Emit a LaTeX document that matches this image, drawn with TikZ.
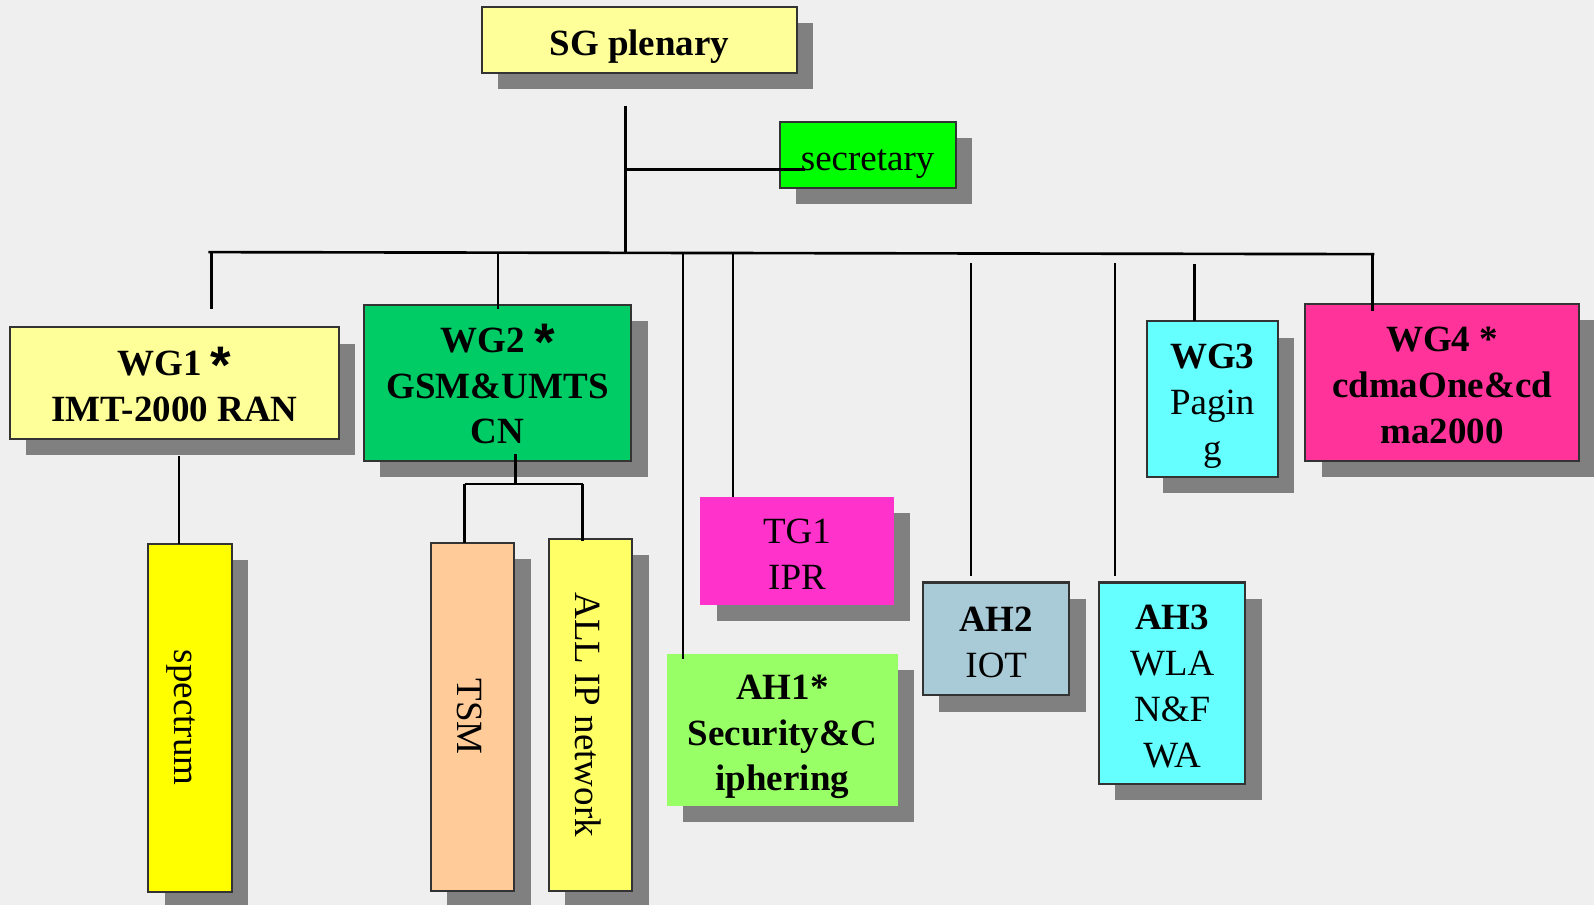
\documentclass[tikz,border=0pt]{standalone}
\usepackage{fontspec}
\usepackage{graphicx}
\setmainfont{Liberation Serif}
\newfontfamily\starfont{Liberation Sans}
\usetikzlibrary{shadows}

\definecolor{bg}{HTML}{EFEFEF}
\definecolor{paleyellow}{HTML}{FFFF99}
\definecolor{secgreen}{HTML}{00FF00}
\definecolor{wgtwo}{HTML}{00CC66}
\definecolor{specyellow}{HTML}{FFFF00}
\definecolor{tsmorange}{HTML}{FFCC99}
\definecolor{ipyellow}{HTML}{FFFF66}
\definecolor{tgpink}{HTML}{FF33CC}
\definecolor{ahonegreen}{HTML}{99FF66}
\definecolor{ahtwoblue}{HTML}{A9CBD8}
\definecolor{lightcyan}{HTML}{66FFFF}
\definecolor{wgfourpink}{HTML}{FF3399}

\newcommand{\lbl}{\fontsize{18.2pt}{22.5pt}\selectfont}
% fixed top and bottom of a text block, so that the capitals sit centred in a box
\newcommand{\ftop}{\rule{0pt}{20pt}}
\newcommand{\fbot}{\rule[-5pt]{0pt}{5pt}}
% heavy star used after the working group names
\newcommand{\bigstar}{\raisebox{-4pt}{\starfont\bfseries\fontsize{26pt}{26pt}\selectfont *}}

\tikzset{
  box/.style={rectangle, inner sep=0pt, outer sep=0pt, align=center, font=\lbl,
    drop shadow={shadow xshift=8pt, shadow yshift=-8pt, fill=black!50, opacity=1}},
  framed/.style={box, draw=black!80, line width=1pt},
  conn/.style={line width=1.3pt, black},
  thinconn/.style={line width=0.7pt, black},
}

\begin{document}
\begin{tikzpicture}[x=0.5pt, y=-0.5pt]
  % page and background
  \fill[bg] (0,0) rectangle (1568,890);
  \useasboundingbox (0,0) rectangle (1568,890);

  % top level
  \node[framed, fill=paleyellow, minimum width=155pt, minimum height=32.5pt, font=\lbl\bfseries] (sg) at (629,39.5) {\ftop SG plenary\fbot};
  \node[framed, fill=secgreen, minimum width=86.5pt, minimum height=32.5pt] (sec) at (853.5,152.5) {\ftop secretary\fbot};

  % working groups
  \node[framed, fill=paleyellow, minimum width=161.5pt, minimum height=55pt, font=\lbl\bfseries] (wg1) at (171.5,377) {\ftop WG1 \bigstar\\IMT-2000 RAN\fbot};
  \node[framed, fill=wgtwo, minimum width=131.5pt, minimum height=76.5pt, font=\lbl\bfseries] (wg2) at (489.5,376.5) {\ftop WG2 \bigstar\\GSM\&UMTS\\CN\fbot};
  \node[framed, fill=lightcyan, minimum width=64.5pt, minimum height=76.5pt] (wg3) at (1192.5,392.5) {\ftop\textbf{WG3}\\Pagin\\g\fbot};
  \node[framed, fill=wgfourpink, minimum width=134.5pt, minimum height=77pt, font=\lbl\bfseries] (wg4) at (1418.5,376) {\ftop WG4 *\\cdmaOne\&cd\\ma2000\fbot};

  % sub groups
  \node[framed, fill=specyellow, minimum width=41pt, minimum height=171pt] (spec) at (187,706) {\rotatebox{-90}{\ftop spectrum\fbot}};
  \node[framed, fill=tsmorange, minimum width=41pt, minimum height=171pt] (tsm) at (465,705) {\rotatebox{-90}{\ftop TSM\fbot}};
  \node[framed, fill=ipyellow, minimum width=41pt, minimum height=173pt] (allip) at (581,703) {\rotatebox{-90}{\ftop ALL IP network\fbot}};

  % task and ad hoc groups
  \node[box, fill=tgpink, minimum width=95pt, minimum height=53pt] (tg1) at (784,542) {\ftop TG1\\IPR\fbot};
  \node[box, fill=ahonegreen, minimum width=113.5pt, minimum height=75pt, font=\lbl\bfseries] (ah1) at (769.5,718) {\ftop AH1*\\Security\&C\\iphering\fbot};
  \node[framed, fill=ahtwoblue, minimum width=72pt, minimum height=55.5pt] (ah2) at (980,628.5) {\ftop\textbf{AH2}\\IOT\fbot};
  \node[framed, fill=lightcyan, minimum width=72pt, minimum height=99pt] (ah3) at (1153,672) {\ftop\textbf{AH3}\\WLA\\N\&F\\WA\fbot};

  % trunk and bus
  \coordinate (top) at (615,104);
  \coordinate (tj) at (615,167);
  \coordinate (busL) at (205,248);
  \coordinate (busM) at (615,248.7);
  \coordinate (busR) at (1352,250);
  \draw[conn] (top) -- (busM);
  \draw[conn] (tj) -- ([xshift=12.5pt]sec.west |- tj);
  \draw[conn] (busL) -- (busR);

  % drops from the bus
  \coordinate (d1a) at (208,248);
  \coordinate (d1b) at (208,304);
  \draw[conn] (d1a) -- (d1b);
  \coordinate (d2a) at (490,248.4);
  \draw[conn] (d2a) -- ([yshift=-2pt]wg2.north -| d2a);
  \coordinate (d3a) at (672,248.8);
  \draw[thinconn] (d3a) -- ([yshift=-2.5pt]ah1.north -| d3a);
  \coordinate (d4a) at (721,248.9);
  \draw[thinconn] (d4a) -- (tg1.north -| d4a);
  \coordinate (d5a) at (955,259);
  \coordinate (d5b) at (955,567);
  \draw[thinconn] (d5a) -- (d5b);
  \coordinate (d6a) at (1097,259);
  \coordinate (d6b) at (1097,567);
  \draw[thinconn] (d6a) -- (d6b);
  \coordinate (d7a) at (1175,260);
  \draw[conn] (d7a) -- (wg3.north -| d7a);
  \coordinate (d8a) at (1350,250);
  \draw[conn] (d8a) -- ([yshift=-3.5pt]wg4.north -| d8a);

  % WG1 to spectrum
  \coordinate (s1) at (176,449);
  \draw[conn] (s1) -- (spec.north -| s1);

  % WG2 to TSM and ALL IP network
  \coordinate (wj) at (507,476);
  \coordinate (wl) at (457,476);
  \coordinate (wr) at (573,476);
  \draw[conn] ([yshift=3pt]wg2.south -| wj) -- (wj);
  \draw[conn] (wl) -- (wr);
  \draw[conn] (wl) -- (tsm.north -| wl);
  \draw[conn] (wr) -- ([yshift=-1pt]allip.north -| wr);
\end{tikzpicture}
\end{document}
